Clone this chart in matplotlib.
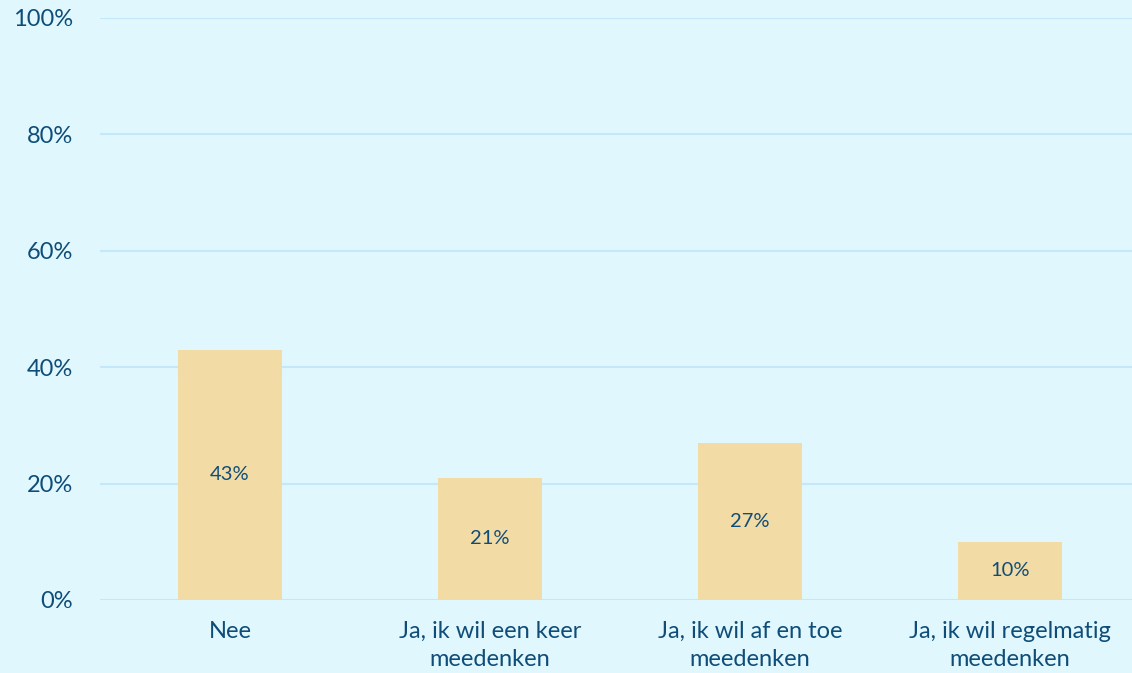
import numpy as np
import matplotlib.pyplot as plt

# data
categories = ["Nee", "Ja, ik wil een keer\nmeedenken", "Ja, ik wil af en toe\nmeedenken", "Ja, ik wil regelmatig\nmeedenken"]
values = [43, 21, 27, 10]
yticks = [0, 20, 40, 60, 80, 100]

bg = "#e0f7fe"
bar_color = "#f2dba5"
text_color = "#0f4d78"
grid_color = "#c4e8fa"

plt.rcParams['font.family'] = ['Lato', 'DejaVu Sans']

W, H = 1132, 673
fig = plt.figure(figsize=(W/100, H/100), dpi=100, facecolor=bg)
ax = fig.add_axes([100/W, 1-600/H, (W-100)/W, (600-18)/H])
ax.set_facecolor(bg)

x = np.arange(len(categories))
ax.bar(x, values, width=0.4, color=bar_color, zorder=2)
for xi, v in zip(x, values):
    ax.text(xi, v/2, f"{v}%", ha='center', va='center', fontsize=14.5, color=text_color, zorder=3)

ax.set_xlim(-0.5, 3.5 - 8/260)
ax.set_ylim(0, 100)
ax.set_yticks(yticks)
ax.set_yticklabels([f"{t}%" for t in yticks])
ax.set_xticks(x)
ax.set_xticklabels(categories, linespacing=1.4)
ax.yaxis.grid(True, color=grid_color, linewidth=1.5, zorder=0)
ax.tick_params(axis='both', length=0, labelsize=17, colors=text_color)
ax.tick_params(axis='y', pad=19.5)
ax.tick_params(axis='x', pad=15)
for s in ax.spines.values():
    s.set_visible(False)

fig.savefig("out.png", dpi=100, facecolor=bg)
